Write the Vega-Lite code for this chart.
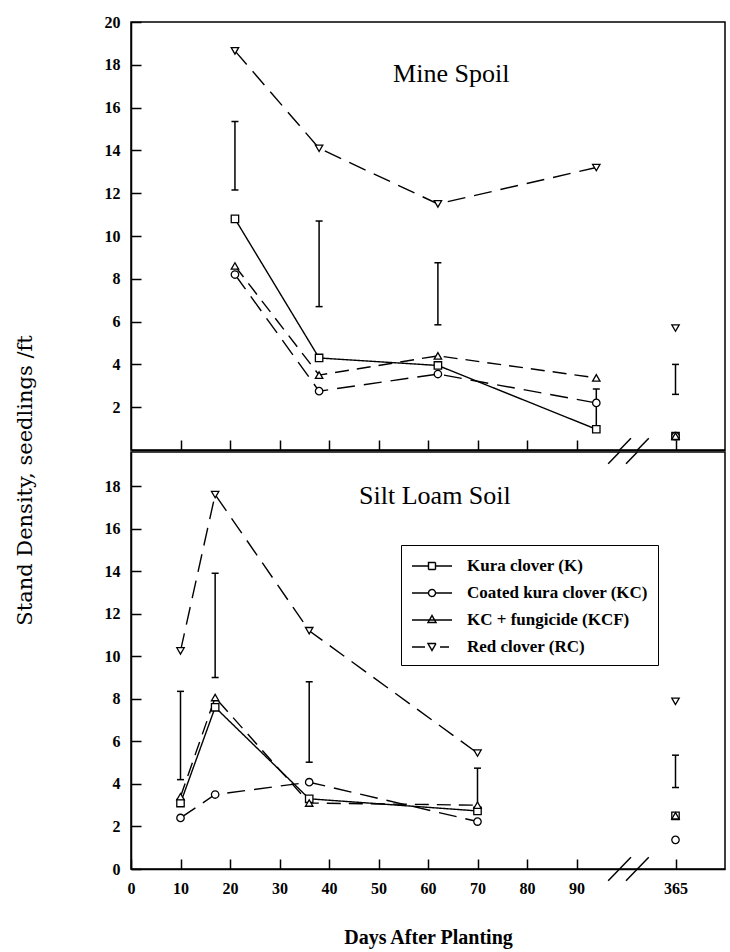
{
  "$schema": "https://vega.github.io/schema/vega-lite/v6.json",
  "background": "white",
  "padding": {"left": 15, "top": 13, "right": 4, "bottom": 5},
  "spacing": -5,
  "title": {"text": "Stand Density, seedlings /ft", "orient": "left", "anchor": "middle", "frame": "bounds", "font": "DejaVu Serif", "fontSize": 21, "fontWeight": "normal", "color": "black", "offset": 67},
  "config": {
    "font": "Liberation Serif",
    "view": {"stroke": "black", "strokeWidth": 1.5},
    "axis": {
      "grid": false,
      "domainColor": "black",
      "domainWidth": 1.5,
      "tickColor": "black",
      "tickWidth": 1.5,
      "tickSize": -10,
      "labelColor": "black",
      "labelFont": "Liberation Serif",
      "labelFontSize": 16,
      "labelFontWeight": "bold",
      "labelPadding": 21,
      "labelFlush": false,
      "titleColor": "black"
    }
  },
  "datasets": {
    "obs": [
      {"panel": "Mine Spoil", "trt": "Kura clover (K)", "day": 21, "density": 10.8},
      {"panel": "Mine Spoil", "trt": "Kura clover (K)", "day": 38, "density": 4.3},
      {"panel": "Mine Spoil", "trt": "Kura clover (K)", "day": 62, "density": 3.95},
      {"panel": "Mine Spoil", "trt": "Kura clover (K)", "day": 94, "density": 0.97},
      {"panel": "Mine Spoil", "trt": "Kura clover (K)", "day": 365, "density": 0.65},
      {"panel": "Mine Spoil", "trt": "Coated kura clover (KC)", "day": 21, "density": 8.2},
      {"panel": "Mine Spoil", "trt": "Coated kura clover (KC)", "day": 38, "density": 2.75},
      {"panel": "Mine Spoil", "trt": "Coated kura clover (KC)", "day": 62, "density": 3.55},
      {"panel": "Mine Spoil", "trt": "Coated kura clover (KC)", "day": 94, "density": 2.2},
      {"panel": "Mine Spoil", "trt": "Coated kura clover (KC)", "day": 365, "density": 0.65},
      {"panel": "Mine Spoil", "trt": "KC + fungicide (KCF)", "day": 21, "density": 8.6},
      {"panel": "Mine Spoil", "trt": "KC + fungicide (KCF)", "day": 38, "density": 3.5},
      {"panel": "Mine Spoil", "trt": "KC + fungicide (KCF)", "day": 62, "density": 4.4},
      {"panel": "Mine Spoil", "trt": "KC + fungicide (KCF)", "day": 94, "density": 3.37},
      {"panel": "Mine Spoil", "trt": "KC + fungicide (KCF)", "day": 365, "density": 0.65},
      {"panel": "Mine Spoil", "trt": "Red clover (RC)", "day": 21, "density": 18.65},
      {"panel": "Mine Spoil", "trt": "Red clover (RC)", "day": 38, "density": 14.1},
      {"panel": "Mine Spoil", "trt": "Red clover (RC)", "day": 62, "density": 11.5},
      {"panel": "Mine Spoil", "trt": "Red clover (RC)", "day": 94, "density": 13.2},
      {"panel": "Mine Spoil", "trt": "Red clover (RC)", "day": 365, "density": 5.7},
      {"panel": "Silt Loam Soil", "trt": "Kura clover (K)", "day": 10, "density": 3.1},
      {"panel": "Silt Loam Soil", "trt": "Kura clover (K)", "day": 17, "density": 7.6},
      {"panel": "Silt Loam Soil", "trt": "Kura clover (K)", "day": 36, "density": 3.3},
      {"panel": "Silt Loam Soil", "trt": "Kura clover (K)", "day": 70, "density": 2.73},
      {"panel": "Silt Loam Soil", "trt": "Kura clover (K)", "day": 365, "density": 2.5},
      {"panel": "Silt Loam Soil", "trt": "Coated kura clover (KC)", "day": 10, "density": 2.4},
      {"panel": "Silt Loam Soil", "trt": "Coated kura clover (KC)", "day": 17, "density": 3.5},
      {"panel": "Silt Loam Soil", "trt": "Coated kura clover (KC)", "day": 36, "density": 4.08},
      {"panel": "Silt Loam Soil", "trt": "Coated kura clover (KC)", "day": 70, "density": 2.23},
      {"panel": "Silt Loam Soil", "trt": "Coated kura clover (KC)", "day": 365, "density": 1.37},
      {"panel": "Silt Loam Soil", "trt": "KC + fungicide (KCF)", "day": 10, "density": 3.4},
      {"panel": "Silt Loam Soil", "trt": "KC + fungicide (KCF)", "day": 17, "density": 8.06},
      {"panel": "Silt Loam Soil", "trt": "KC + fungicide (KCF)", "day": 36, "density": 3.1},
      {"panel": "Silt Loam Soil", "trt": "KC + fungicide (KCF)", "day": 70, "density": 3.0},
      {"panel": "Silt Loam Soil", "trt": "KC + fungicide (KCF)", "day": 365, "density": 2.5},
      {"panel": "Silt Loam Soil", "trt": "Red clover (RC)", "day": 10, "density": 10.25},
      {"panel": "Silt Loam Soil", "trt": "Red clover (RC)", "day": 17, "density": 17.6},
      {"panel": "Silt Loam Soil", "trt": "Red clover (RC)", "day": 36, "density": 11.2},
      {"panel": "Silt Loam Soil", "trt": "Red clover (RC)", "day": 70, "density": 5.45},
      {"panel": "Silt Loam Soil", "trt": "Red clover (RC)", "day": 365, "density": 7.88}
    ],
    "lsd": [
      {"panel": "Mine Spoil", "day": 21, "lo": 12.15, "hi": 15.35},
      {"panel": "Mine Spoil", "day": 38, "lo": 6.7, "hi": 10.7},
      {"panel": "Mine Spoil", "day": 62, "lo": 5.85, "hi": 8.75},
      {"panel": "Mine Spoil", "day": 94, "lo": 0.97, "hi": 2.85},
      {"panel": "Mine Spoil", "day": 365, "lo": 2.6, "hi": 4.0},
      {"panel": "Silt Loam Soil", "day": 10, "lo": 4.2, "hi": 8.35},
      {"panel": "Silt Loam Soil", "day": 17, "lo": 9.0, "hi": 13.9},
      {"panel": "Silt Loam Soil", "day": 36, "lo": 5.02, "hi": 8.8},
      {"panel": "Silt Loam Soil", "day": 70, "lo": 2.75, "hi": 4.74},
      {"panel": "Silt Loam Soil", "day": 365, "lo": 3.83, "hi": 5.35}
    ],
    "panels": [
      {"panel": "Mine Spoil"},
      {"panel": "Silt Loam Soil"}
    ]
  },
  "resolve": {"scale": {"x": "independent", "y": "independent", "shape": "independent", "strokeDash": "independent"}},
  "vconcat": [
    {
      "width": 594,
      "height": 428,
      "layer": [
        {
          "data": {"name": "obs"},
          "transform": [{"filter": "datum.panel === 'Mine Spoil' && datum.day < 300"}],
          "mark": {"type": "line", "color": "black", "strokeWidth": 1.4},
          "encoding": {
            "x": {"field": "day", "type": "quantitative",
              "scale": {"type": "linear", "domain": [0, 105, 365, 375], "range": [0, 519.75, 544.5, 594], "nice": false, "zero": false},
              "axis": {"values": [10, 20, 30, 40, 50, 60, 70, 80, 90, 365], "labels": false, "title": null}},
            "y": {"field": "density", "type": "quantitative",
              "scale": {"domain": [0, 20], "nice": false, "zero": false},
              "axis": {"values": [2, 4, 6, 8, 10, 12, 14, 16, 18, 20], "title": null}},
            "detail": {"field": "trt"},
            "strokeDash": {"field": "trt", "type": "nominal", "legend": null,
              "scale": {"domain": ["Kura clover (K)", "Coated kura clover (KC)", "KC + fungicide (KCF)", "Red clover (RC)"],
                "range": [[1, 0], [18, 9], [14, 8], [18, 9]]}}
          }
        },
        {
          "data": {"name": "lsd"},
          "transform": [{"filter": "datum.panel === 'Mine Spoil'"}],
          "mark": {"type": "rule", "color": "black", "strokeWidth": 1.5},
          "encoding": {
            "x": {"field": "day", "type": "quantitative"},
            "y": {"field": "lo", "type": "quantitative"},
            "y2": {"field": "hi"}
          }
        },
        {
          "data": {"name": "lsd"},
          "transform": [{"filter": "datum.panel === 'Mine Spoil'"}],
          "mark": {"type": "tick", "orient": "horizontal", "color": "black", "size": 7, "thickness": 1.5, "opacity": 1},
          "encoding": {
            "x": {"field": "day", "type": "quantitative"},
            "y": {"field": "lo", "type": "quantitative"}
          }
        },
        {
          "data": {"name": "lsd"},
          "transform": [{"filter": "datum.panel === 'Mine Spoil'"}],
          "mark": {"type": "tick", "orient": "horizontal", "color": "black", "size": 7, "thickness": 1.5, "opacity": 1},
          "encoding": {
            "x": {"field": "day", "type": "quantitative"},
            "y": {"field": "hi", "type": "quantitative"}
          }
        },
        {
          "data": {"name": "obs"},
          "transform": [{"filter": "datum.panel === 'Mine Spoil'"}],
          "mark": {"type": "point", "filled": true, "fill": "white", "stroke": "black", "strokeWidth": 1.3, "size": 55, "opacity": 1},
          "encoding": {
            "x": {"field": "day", "type": "quantitative"},
            "y": {"field": "density", "type": "quantitative"},
            "shape": {"field": "trt", "type": "nominal", "legend": null,
              "scale": {"domain": ["Kura clover (K)", "Coated kura clover (KC)", "KC + fungicide (KCF)", "Red clover (RC)"],
                "range": ["square", "circle", "triangle-up", "triangle-down"]}}
          }
        },
        {
          "data": {"name": "panels"},
          "transform": [{"filter": "datum.panel === 'Mine Spoil'"}],
          "mark": {"type": "text", "font": "Liberation Serif", "fontSize": 26, "color": "black", "align": "center", "baseline": "alphabetic"},
          "encoding": {
            "x": {"datum": 64.7, "type": "quantitative"},
            "y": {"datum": 17.2, "type": "quantitative"},
            "text": {"field": "panel"}
          }
        },
        {
          "data": {"values": [{}]},
          "mark": {"type": "rule", "color": "black", "strokeWidth": 1.5},
          "encoding": {
            "x": {"datum": 98.7, "type": "quantitative"},
            "x2": {"datum": 101},
            "y": {"datum": 0, "type": "quantitative"},
            "y2": {"datum": 0.55}
          }
        },
        {
          "data": {"values": [{}]},
          "mark": {"type": "rule", "color": "black", "strokeWidth": 1.5},
          "encoding": {
            "x": {"datum": 102.3, "type": "quantitative"},
            "x2": {"datum": 104.6},
            "y": {"datum": 0, "type": "quantitative"},
            "y2": {"datum": 0.55}
          }
        }
      ]
    },
    {
      "width": 594,
      "height": 417,
      "resolve": {"scale": {"shape": "independent", "strokeDash": "independent"}},
      "layer": [
        {
          "data": {"name": "obs"},
          "transform": [{"filter": "datum.panel === 'Silt Loam Soil' && datum.day < 300"}],
          "mark": {"type": "line", "color": "black", "strokeWidth": 1.4},
          "encoding": {
            "x": {"field": "day", "type": "quantitative",
              "scale": {"type": "linear", "domain": [0, 105, 365, 375], "range": [0, 519.75, 544.5, 594], "nice": false, "zero": false},
              "axis": {"values": [0, 10, 20, 30, 40, 50, 60, 70, 80, 90, 365],
                "title": "Days After Planting", "titleFont": "Liberation Serif", "titleFontSize": 20, "titleFontWeight": "bold",
                "titleY": 68, "titleBaseline": "middle"}},
            "y": {"field": "density", "type": "quantitative",
              "scale": {"domain": [0, 19.6], "nice": false, "zero": false},
              "axis": {"values": [0, 2, 4, 6, 8, 10, 12, 14, 16, 18], "title": null}},
            "detail": {"field": "trt"},
            "strokeDash": {"field": "trt", "type": "nominal", "legend": null,
              "scale": {"domain": ["Kura clover (K)", "Coated kura clover (KC)", "KC + fungicide (KCF)", "Red clover (RC)"],
                "range": [[1, 0], [18, 9], [14, 8], [18, 9]]}}
          }
        },
        {
          "data": {"name": "lsd"},
          "transform": [{"filter": "datum.panel === 'Silt Loam Soil'"}],
          "mark": {"type": "rule", "color": "black", "strokeWidth": 1.5},
          "encoding": {
            "x": {"field": "day", "type": "quantitative"},
            "y": {"field": "lo", "type": "quantitative"},
            "y2": {"field": "hi"}
          }
        },
        {
          "data": {"name": "lsd"},
          "transform": [{"filter": "datum.panel === 'Silt Loam Soil'"}],
          "mark": {"type": "tick", "orient": "horizontal", "color": "black", "size": 7, "thickness": 1.5, "opacity": 1},
          "encoding": {
            "x": {"field": "day", "type": "quantitative"},
            "y": {"field": "lo", "type": "quantitative"}
          }
        },
        {
          "data": {"name": "lsd"},
          "transform": [{"filter": "datum.panel === 'Silt Loam Soil'"}],
          "mark": {"type": "tick", "orient": "horizontal", "color": "black", "size": 7, "thickness": 1.5, "opacity": 1},
          "encoding": {
            "x": {"field": "day", "type": "quantitative"},
            "y": {"field": "hi", "type": "quantitative"}
          }
        },
        {
          "data": {"name": "obs"},
          "transform": [{"filter": "datum.panel === 'Silt Loam Soil'"}],
          "mark": {"type": "point", "filled": true, "fill": "white", "stroke": "black", "strokeWidth": 1.3, "size": 55, "opacity": 1},
          "encoding": {
            "x": {"field": "day", "type": "quantitative"},
            "y": {"field": "density", "type": "quantitative"},
            "shape": {"field": "trt", "type": "nominal", "legend": null,
              "scale": {"domain": ["Kura clover (K)", "Coated kura clover (KC)", "KC + fungicide (KCF)", "Red clover (RC)"],
                "range": ["square", "circle", "triangle-up", "triangle-down"]}}
          }
        },
        {
          "data": {"name": "obs"},
          "transform": [{"filter": "datum.panel === 'Silt Loam Soil'"}],
          "mark": {"type": "point", "filled": true, "fill": "transparent", "stroke": "black", "strokeWidth": 1.4, "opacity": 0},
          "encoding": {
            "x": {"field": "day", "type": "quantitative"},
            "y": {"field": "density", "type": "quantitative"},
            "strokeDash": {"field": "trt", "type": "nominal",
              "scale": {"domain": ["Kura clover (K)", "Coated kura clover (KC)", "KC + fungicide (KCF)", "Red clover (RC)"],
                "range": [[1, 0], [1, 0], [1, 0], [1, 0]]},
              "legend": {
                "title": null, "orient": "none", "legendX": 270, "legendY": 93,
                "strokeColor": "black", "fillColor": "white",
                "padding": 10, "rowPadding": 8,
                "symbolSize": 400, "symbolOffset": 10, "symbolOpacity": 1,
                "symbolStrokeColor": "black", "symbolStrokeWidth": 1.4,
                "labelFont": "Liberation Serif", "labelFontSize": 17, "labelFontWeight": "bold", "labelColor": "black",
                "labelLimit": 320, "labelOffset": 24,
                "encode": {"symbols": {"update": {
                  "fill": {"signal": "datum.value === 'KC + fungicide (KCF)' ? 'black' : 'transparent'"},
                  "stroke": {"value": "black"},
                  "opacity": {"value": 1}
                }}}
              }},
            "shape": {"field": "trt", "type": "nominal",
              "scale": {"domain": ["Kura clover (K)", "Coated kura clover (KC)", "KC + fungicide (KCF)", "Red clover (RC)"],
                "range": [
                  "M-2,0H-0.35M0.35,0H2M-0.35,-0.35H0.35V0.35H-0.35Z",
                  "M-2,0H-0.35M0.35,0H2M-0.35,0A0.35,0.35,0,1,0,0.35,0A0.35,0.35,0,1,0,-0.35,0Z",
                  "M-2,0H2M-0.4,0.25L0,-0.45L0.4,0.25Z",
                  "M-2,0H-0.7M-0.4,-0.35H0.4L0,0.35ZM0.8,0H1.7"
                ]},
              "legend": {
                "title": null, "orient": "none", "legendX": 270, "legendY": 93,
                "strokeColor": "black", "fillColor": "white",
                "padding": 10, "rowPadding": 8,
                "symbolSize": 400, "symbolOffset": 10, "symbolOpacity": 1,
                "symbolStrokeColor": "black", "symbolStrokeWidth": 1.4,
                "labelFont": "Liberation Serif", "labelFontSize": 17, "labelFontWeight": "bold", "labelColor": "black",
                "labelLimit": 320, "labelOffset": 24,
                "encode": {"symbols": {"update": {
                  "fill": {"signal": "datum.value === 'KC + fungicide (KCF)' ? 'black' : 'transparent'"},
                  "stroke": {"value": "black"},
                  "opacity": {"value": 1}
                }}}
              }}
          }
        },
        {
          "data": {"name": "panels"},
          "transform": [{"filter": "datum.panel === 'Silt Loam Soil'"}],
          "mark": {"type": "text", "font": "Liberation Serif", "fontSize": 26, "color": "black", "align": "center", "baseline": "alphabetic"},
          "encoding": {
            "x": {"datum": 61.4, "type": "quantitative"},
            "y": {"datum": 17.15, "type": "quantitative"},
            "text": {"field": "panel"}
          }
        },
        {
          "data": {"values": [{}]},
          "mark": {"type": "rule", "color": "black", "strokeWidth": 1.5},
          "encoding": {
            "x": {"datum": 96.4, "type": "quantitative"},
            "x2": {"datum": 98.7},
            "y": {"datum": 19.05, "type": "quantitative"},
            "y2": {"datum": 19.6}
          }
        },
        {
          "data": {"values": [{}]},
          "mark": {"type": "rule", "color": "black", "strokeWidth": 1.5},
          "encoding": {
            "x": {"datum": 100, "type": "quantitative"},
            "x2": {"datum": 102.3},
            "y": {"datum": 19.05, "type": "quantitative"},
            "y2": {"datum": 19.6}
          }
        },
        {
          "data": {"values": [{}]},
          "mark": {"type": "rule", "color": "black", "strokeWidth": 1.5},
          "encoding": {
            "x": {"datum": 96.4, "type": "quantitative"},
            "x2": {"datum": 101},
            "y": {"datum": -0.55, "type": "quantitative"},
            "y2": {"datum": 0.55}
          }
        },
        {
          "data": {"values": [{}]},
          "mark": {"type": "rule", "color": "black", "strokeWidth": 1.5},
          "encoding": {
            "x": {"datum": 100, "type": "quantitative"},
            "x2": {"datum": 104.6},
            "y": {"datum": -0.55, "type": "quantitative"},
            "y2": {"datum": 0.55}
          }
        }
      ]
    }
  ]
}
